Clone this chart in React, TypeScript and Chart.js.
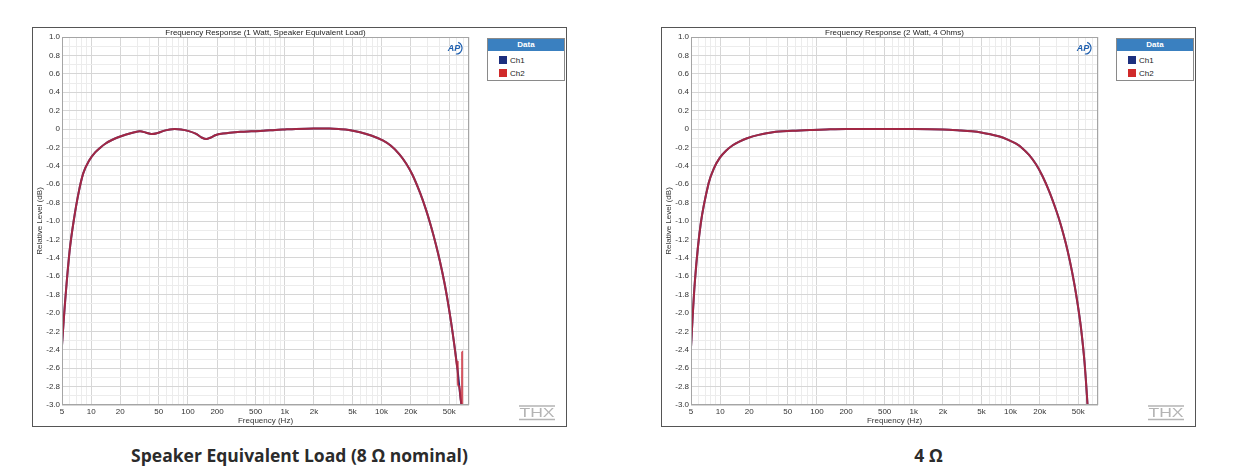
import { useEffect, useRef } from "react";
import { Chart, registerables } from "chart.js";

Chart.register(...registerables);

// tick labels
const xTickValues = [5, 10, 20, 50, 100, 200, 500, 1000, 2000, 5000, 10000, 20000, 50000];
const xTickLabels = ["5", "10", "20", "50", "100", "200", "500", "1k", "2k", "5k", "10k", "20k", "50k"];
const yTickValues = [1, 0.8, 0.6, 0.4, 0.2, 0, -0.2, -0.4, -0.6, -0.8, -1, -1.2, -1.4, -1.6, -1.8, -2, -2.2, -2.4, -2.6, -2.8, -3];
const yTickLabels = ["1.0", "0.8", "0.6", "0.4", "0.2", "0", "-0.2", "-0.4", "-0.6", "-0.8", "-1.0", "-1.2", "-1.4", "-1.6", "-1.8", "-2.0", "-2.2", "-2.4", "-2.6", "-2.8", "-3.0"];
const seriesNames = ["Ch1", "Ch2"];

// 1 W, speaker equivalent load (Hz, dB); null = no sample for that channel
const loadFreq = [
  5, 5.4, 6, 6.6, 7.4, 8.3, 9.5, 11, 12.5, 14, 16, 19, 23, 28, 32, 37, 42, 48, 56, 65, 73, 85, 100,
  120, 140, 155, 170, 195, 230, 270, 350, 450, 600, 800, 1000, 1300, 2000, 2900, 3600, 4600, 6000,
  7800, 10300, 12500, 15300, 18000, 20900, 25000, 28800, 32500, 36500, 40000, 44400, 48000, 52100,
  56500, 60900, 61200, 61500, 63500, 65500, 67400, 67700, 67900, 68100,
];
const loadCh1 = [
  -2.35, -1.86, -1.32, -1.0, -0.7, -0.48, -0.345, -0.255, -0.2, -0.16, -0.125, -0.09, -0.06, -0.035,
  -0.025, -0.04, -0.055, -0.045, -0.02, -0.005, 0.0, -0.005, -0.02, -0.05, -0.095, -0.11, -0.095,
  -0.065, -0.05, -0.04, -0.03, -0.025, -0.02, -0.01, -0.005, 0.0, 0.005, 0.005, 0.0, -0.01, -0.035,
  -0.07, -0.124, -0.183, -0.275, -0.377, -0.5, -0.695, -0.879, -1.063, -1.26, -1.435, -1.66, -1.857,
  -2.092, -2.352, -2.616, null, null, -2.8, -2.93, -3.05, null, null, -3.4,
];
const loadCh2 = [
  -2.35, -1.86, -1.32, -1.0, -0.7, -0.48, -0.345, -0.255, -0.2, -0.16, -0.125, -0.09, -0.06, -0.035,
  -0.025, -0.04, -0.055, -0.045, -0.02, -0.005, 0.0, -0.005, -0.02, -0.05, -0.095, -0.11, -0.095,
  -0.065, -0.05, -0.04, -0.03, -0.025, -0.02, -0.01, -0.005, 0.0, 0.005, 0.005, 0.0, -0.01, -0.035,
  -0.07, -0.124, -0.183, -0.275, -0.377, -0.5, -0.695, -0.879, -1.063, -1.26, -1.435, -1.66, -1.857,
  -2.092, -2.352, -2.616, -2.53, -2.78, -2.8, -2.93, -3.05, -3.4, -2.42, -3.4,
];

// 2 W, 4 ohms (Hz, dB)
const fourFreq = [
  5, 5.5, 6.3, 7.6, 8.6, 9.9, 11.5, 13.5, 15.6, 19, 25, 35, 56, 90, 124, 200, 500, 1000, 2000,
  3000, 4000, 5100, 6200, 7700, 9200, 11400, 13200, 15600, 18300, 21400, 25000, 29500, 33000,
  37300, 41000, 45500, 49500, 53300, 58000, 62400, 64000,
];
const fourCh1 = [
  -2.37, -1.64, -1.03, -0.59, -0.43, -0.314, -0.236, -0.177, -0.139, -0.1, -0.064, -0.035, -0.02,
  -0.01, -0.005, 0.0, 0.0, 0.0, -0.005, -0.015, -0.025, -0.04, -0.058, -0.082, -0.112, -0.16, -0.208,
  -0.284, -0.384, -0.513, -0.675, -0.88, -1.04, -1.247, -1.436, -1.68, -1.914, -2.157, -2.53, -3.0,
  -3.2,
];
const fourCh2 = [
  -2.37, -1.64, -1.03, -0.59, -0.43, -0.314, -0.236, -0.177, -0.139, -0.1, -0.064, -0.035, -0.02,
  -0.01, -0.005, 0.0, 0.0, 0.0, -0.005, -0.015, -0.025, -0.04, -0.058, -0.082, -0.112, -0.16, -0.208,
  -0.284, -0.384, -0.513, -0.675, -0.88, -1.04, -1.247, -1.436, -1.68, -1.914, -2.157, -2.53, -3.0,
  -3.2,
];

const ch1Color = "#1f2c7c";
const ch2Color = "rgba(200, 38, 52, 0.78)";
const gridMajor = "#d6d6d6";
const gridMinor = "#ececec";
const font = "'Liberation Sans', Arial, sans-serif";

const CANVAS_W = 533;
const CANVAS_H = 398;

function toPoints(freq: number[], vals: (number | null)[]) {
  const pts: { x: number; y: number }[] = [];
  freq.forEach((f, i) => {
    const v = vals[i];
    if (v !== null && v !== undefined) pts.push({ x: f, y: v });
  });
  return pts;
}

function decorPlugin(title: string) {
  return {
    id: "apDecor",
    afterDraw(chart: Chart) {
      const { ctx, chartArea } = chart;
      const { left, right, top, bottom } = chartArea;
      ctx.save();
      // plot frame
      ctx.strokeStyle = "#a5a5a5";
      ctx.lineWidth = 1;
      ctx.strokeRect(left + 0.5, top + 0.5, right - left - 1, bottom - top - 1);
      // title
      ctx.fillStyle = "#222";
      ctx.font = `8px ${font}`;
      ctx.textAlign = "center";
      ctx.textBaseline = "middle";
      ctx.fillText(title, (left + right) / 2, 4.5);
      // AP badge
      const ax = right - 14;
      const ay = top + 11;
      ctx.fillStyle = "#2161b0";
      ctx.font = `italic bold 9px ${font}`;
      ctx.fillText("AP", ax - 1, ay + 0.5);
      ctx.strokeStyle = "#2161b0";
      ctx.lineWidth = 1.2;
      ctx.beginPath();
      ctx.arc(ax + 1, ay, 6, -1.2, 1.6);
      ctx.stroke();
      // THX mark
      const tx = right + 68;
      const ty = bottom + 7;
      ctx.fillStyle = "#b4b4b4";
      ctx.strokeStyle = "#b4b4b4";
      ctx.lineWidth = 1.5;
      ctx.beginPath();
      ctx.moveTo(tx - 18, ty - 6);
      ctx.lineTo(tx + 18, ty - 6);
      ctx.moveTo(tx - 18, ty + 7.5);
      ctx.lineTo(tx + 18, ty + 7.5);
      ctx.stroke();
      ctx.font = `13px ${font}`;
      ctx.save();
      ctx.translate(tx, ty + 1);
      ctx.scale(1.35, 1);
      ctx.fillText("THX", 0, 0);
      ctx.restore();
      ctx.restore();
    },
  };
}

interface PanelProps {
  title: string;
  freq: number[];
  ch1: (number | null)[];
  ch2: (number | null)[];
}

function ResponseChart({ title, freq, ch1, ch2 }: PanelProps) {
  const canvasRef = useRef<HTMLCanvasElement>(null);

  useEffect(() => {
    if (!canvasRef.current) return;
    const chart = new Chart(canvasRef.current, {
      type: "line",
      data: {
        datasets: [
          {
            label: seriesNames[0],
            data: toPoints(freq, ch1),
            borderColor: ch1Color,
            borderWidth: 2,
            pointRadius: 0,
            tension: 0.35,
            order: 2,
          },
          {
            label: seriesNames[1],
            data: toPoints(freq, ch2),
            borderColor: ch2Color,
            borderWidth: 2,
            pointRadius: 0,
            tension: 0.35,
            order: 1,
          },
        ],
      },
      options: {
        responsive: false,
        animation: false,
        layout: { padding: { top: 9, right: 97, left: 0, bottom: 0 } },
        plugins: {
          legend: { display: false },
          tooltip: { enabled: false },
        },
        scales: {
          x: {
            type: "logarithmic",
            min: 5,
            max: 80000,
            afterBuildTicks: (scale: any) => {
              const ticks: { value: number }[] = [];
              for (let d = 1; d <= 10000; d *= 10) {
                for (let m = 1; m <= 9; m++) {
                  const v = m * d;
                  if (v >= 5 && v <= 80000) ticks.push({ value: v });
                }
              }
              scale.ticks = ticks;
            },
            afterFit: (scale: any) => {
              scale.height = 21;
            },
            ticks: {
              autoSkip: false,
              maxRotation: 0,
              padding: 2,
              color: "#333",
              font: { family: font, size: 8 },
              callback: (value: any) => {
                const i = xTickValues.indexOf(Number(value));
                return i >= 0 ? xTickLabels[i] : "";
              },
            },
            grid: {
              drawTicks: false,
              color: (c: any) =>
                c.tick && xTickValues.includes(c.tick.value) ? gridMajor : gridMinor,
            },
            border: { display: false },
            title: {
              display: true,
              text: "Frequency (Hz)",
              color: "#333",
              font: { family: font, size: 8 },
              padding: { top: 0, bottom: 0 },
            },
          },
          y: {
            type: "linear",
            min: -3,
            max: 1,
            afterBuildTicks: (scale: any) => {
              const ticks: { value: number }[] = [];
              for (let i = -30; i <= 10; i++) ticks.push({ value: i / 10 });
              scale.ticks = ticks;
            },
            afterFit: (scale: any) => {
              scale.width = 29;
            },
            ticks: {
              autoSkip: false,
              padding: 2,
              color: "#333",
              font: { family: font, size: 8 },
              callback: (value: any) => {
                const i = yTickValues.findIndex((t) => Math.abs(t - Number(value)) < 1e-6);
                return i >= 0 ? yTickLabels[i] : "";
              },
            },
            grid: {
              drawTicks: false,
              color: (c: any) =>
                c.tick && Math.abs(Math.round(c.tick.value * 10)) % 2 === 0 ? gridMajor : gridMinor,
            },
            border: { display: false },
            title: {
              display: true,
              text: "Relative Level (dB)",
              color: "#333",
              font: { family: font, size: 8 },
              padding: { top: 2, bottom: 0 },
            },
          },
        },
      },
      plugins: [decorPlugin(title)],
    } as any);
    return () => {
      chart.destroy();
    };
  }, [title, freq, ch1, ch2]);

  return (
    <canvas
      ref={canvasRef}
      width={CANVAS_W}
      height={CANVAS_H}
      style={{ display: "block", width: CANVAS_W, height: CANVAS_H }}
    />
  );
}

function Legend() {
  const colors = ["#1d2f7e", "#d02a2a"];
  return (
    <div
      style={{
        position: "absolute",
        left: 454,
        top: 10,
        width: 76,
        height: 41,
        border: "1px solid #8a8a8a",
        background: "#fff",
        fontFamily: font,
        fontSize: 8,
        color: "#222",
      }}
    >
      <div
        style={{
          background: "#3a80c0",
          color: "#fff",
          fontWeight: "bold",
          textAlign: "center",
          height: 12,
          lineHeight: "12px",
        }}
      >
        Data
      </div>
      {seriesNames.map((n, i) => (
        <div key={n} style={{ position: "absolute", left: 11, top: 17 + i * 13, height: 9, lineHeight: "9px" }}>
          <span
            style={{
              display: "inline-block",
              width: 8,
              height: 8,
              background: colors[i],
              verticalAlign: "top",
              marginRight: 3,
            }}
          />
          {n}
        </div>
      ))}
    </div>
  );
}

function Panel({ left, caption, ...rest }: PanelProps & { left: number; caption: string }) {
  return (
    <>
      <div
        style={{
          position: "absolute",
          left,
          top: 19,
          width: CANVAS_W,
          height: CANVAS_H,
          border: "1px solid #555",
          background: "#fff",
        }}
      >
        <ResponseChart {...rest} />
        <Legend />
      </div>
      <div
        style={{
          position: "absolute",
          left,
          top: 436,
          width: CANVAS_W + 2,
          textAlign: "center",
          fontFamily: "'Open Sans', 'Noto Sans', sans-serif",
          fontWeight: 700,
          fontSize: 17.5,
          lineHeight: "22px",
          color: "#2b2b2b",
        }}
      >
        {caption}
      </div>
    </>
  );
}

export default function App() {
  return (
    <div style={{ position: "relative", width: 1231, height: 458 }}>
      <Panel
        left={24}
        title="Frequency Response (1 Watt, Speaker Equivalent Load)"
        caption="Speaker Equivalent Load (8 Ω nominal)"
        freq={loadFreq}
        ch1={loadCh1}
        ch2={loadCh2}
      />
      <Panel
        left={653}
        title="Frequency Response (2 Watt, 4 Ohms)"
        caption="4 Ω"
        freq={fourFreq}
        ch1={fourCh1}
        ch2={fourCh2}
      />
    </div>
  );
}
